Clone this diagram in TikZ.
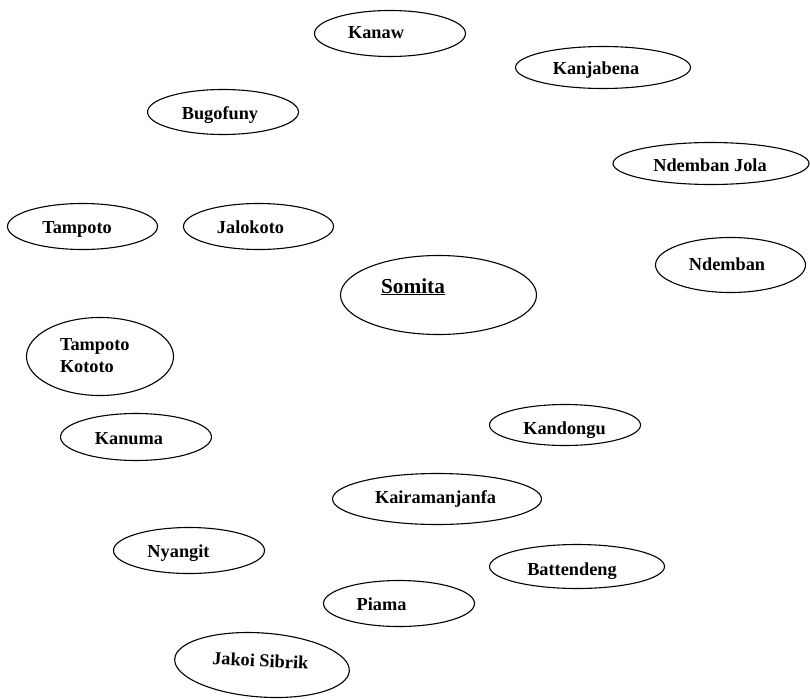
\documentclass[tikz,border=0pt]{standalone}
\usepackage{fontspec}
\setmainfont{Liberation Serif}
\usetikzlibrary{shapes.geometric}
\begin{document}
\begin{tikzpicture}[x=1pt,y=-1pt,
  oval/.style={draw=black, line width=1.1pt, ellipse, inner sep=0pt, outer sep=0pt},
  lbl/.style={inner sep=0pt, outer sep=0pt, anchor=base, font=\fontsize{18.3}{22}\selectfont\bfseries}]
\useasboundingbox (0,0) rectangle (810,698);
% ellipses
\node[oval, minimum width=151pt, minimum height=46pt] (eKanaw) at (390,33.5) {};
\node[oval, minimum width=175pt, minimum height=42pt] (eKanjabena) at (603,67.5) {};
\node[oval, minimum width=196pt, minimum height=42pt] (eNdembanJola) at (711,163.5) {};
\node[oval, minimum width=151pt, minimum height=45pt] (eBugofuny) at (223,112) {};
\node[oval, minimum width=150pt, minimum height=46pt] (eTampoto) at (82.5,226.5) {};
\node[oval, minimum width=150pt, minimum height=46pt] (eJalokoto) at (258.5,226.5) {};
\node[oval, minimum width=147pt, minimum height=78pt] (eTampotoKototo) at (100,356.5) {};
\node[oval, minimum width=196pt, minimum height=79pt] (eSomita) at (438.5,295) {};
\node[oval, minimum width=150pt, minimum height=55pt] (eNdemban) at (730.5,265) {};
\node[oval, minimum width=151pt, minimum height=41pt] (eKandongu) at (565,425) {};
\node[oval, minimum width=151pt, minimum height=47pt] (eKanuma) at (136,437) {};
\node[oval, minimum width=209pt, minimum height=51pt] (eKairamanjanfa) at (437,499) {};
\node[oval, minimum width=151pt, minimum height=46pt] (eNyangit) at (189,550.5) {};
\node[oval, minimum width=175pt, minimum height=44pt] (eBattendeng) at (577,566.5) {};
\node[oval, minimum width=151pt, minimum height=46pt] (ePiama) at (399,603.5) {};
\node[oval, minimum width=175pt, minimum height=64pt, rotate=-4] (eJakoiSibrik) at (262,665) {};
% labels
\node[lbl] (tKanaw) at (376,39) {Kanaw};
\node[lbl] (tKanjabena) at (596,75) {Kanjabena};
\node[lbl] (tNdembanJola) at (710,171) {Ndemban Jola};
\node[lbl] (tBugofuny) at (220,119) {Bugofuny};
\node[lbl] (tTampoto) at (77,233) {Tampoto};
\node[lbl] (tJalokoto) at (250.5,233) {Jalokoto};
\node[lbl, anchor=north west, align=left] (tTampotoKototo) at (60,339) {Tampoto\\Kototo};
\node[lbl, font=\fontsize{21.3}{25}\selectfont\bfseries] (tSomita) at (413,293) {\underline{Somita}};
\node[lbl] (tNdemban) at (727,270) {Ndemban};
\node[lbl] (tKandongu) at (564.5,434) {Kandongu};
\node[lbl] (tKanuma) at (129,444) {Kanuma};
\node[lbl] (tKairamanjanfa) at (435.5,503) {Kairamanjanfa};
\node[lbl] (tNyangit) at (178.5,557) {Nyangit};
\node[lbl] (tBattendeng) at (572,575) {Battendeng};
\node[lbl] (tPiama) at (381.5,610) {Piama};
\node[lbl, rotate=-3] (tJakoiSibrik) at (260,667) {Jakoi Sibrik};
\end{tikzpicture}
\end{document}
